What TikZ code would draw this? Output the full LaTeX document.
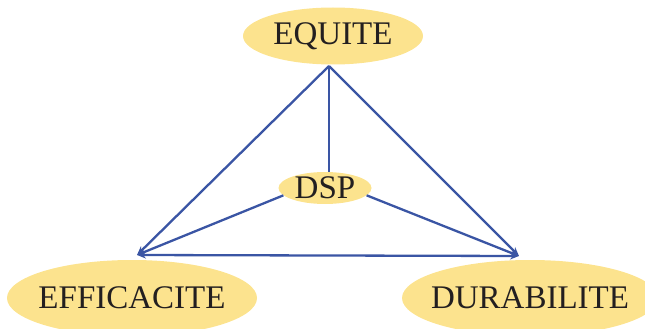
\documentclass[tikz,border=0pt]{standalone}
\usepackage{fontspec}
\setmainfont{Liberation Serif}
\usetikzlibrary{shapes.geometric}
\usetikzlibrary{arrows.meta}
\tikzset{>={Stealth[length=9pt,width=7pt]}}
\usepackage[svgnames]{xcolor}
\definecolor{bulle}{HTML}{FCE38E}
\definecolor{trait}{HTML}{3A55A4}
\definecolor{encre}{HTML}{231F20}
\tikzset{
  bulle/.style={ellipse,fill=bulle,inner sep=-20pt,text=encre,
    font=\fontsize{33}{38}\selectfont},
  fleche/.style={draw=trait,line width=2.3pt,->}
}

\begin{document}
\begin{tikzpicture}[x=1pt,y=-1pt]
  % 画布
  \clip (0,0) rectangle (645,329);

  % 椭圆节点
  \node[bulle,minimum width=180pt,minimum height=57pt] (eq) at (333,36) {EQUITE};
  \node[bulle,minimum width=93pt,minimum height=32pt] (dsp) at (325,188) {DSP};
  \node[bulle,minimum width=250pt,minimum height=76pt] (eff) at (132,298) {EFFICACITE};
  \node[bulle,minimum width=256pt,minimum height=76pt] (dur) at (530,298) {DURABILITE};

  % 端点
  \coordinate (top) at (329,66);
  \coordinate (effTip) at (137,255);
  \coordinate (durTip) at (519,256);

  % 连线
  \draw[draw=trait,line width=2.3pt] (top) -- (top |- dsp.north);
  \draw[fleche] (top) -- (effTip);
  \draw[fleche] (top) -- (durTip);
  \draw[fleche] (dsp.190) -- (effTip);
  \draw[fleche] (dsp.-10) -- (durTip);
  \draw[fleche,<->] (effTip) -- (durTip);
\end{tikzpicture}
\end{document}
